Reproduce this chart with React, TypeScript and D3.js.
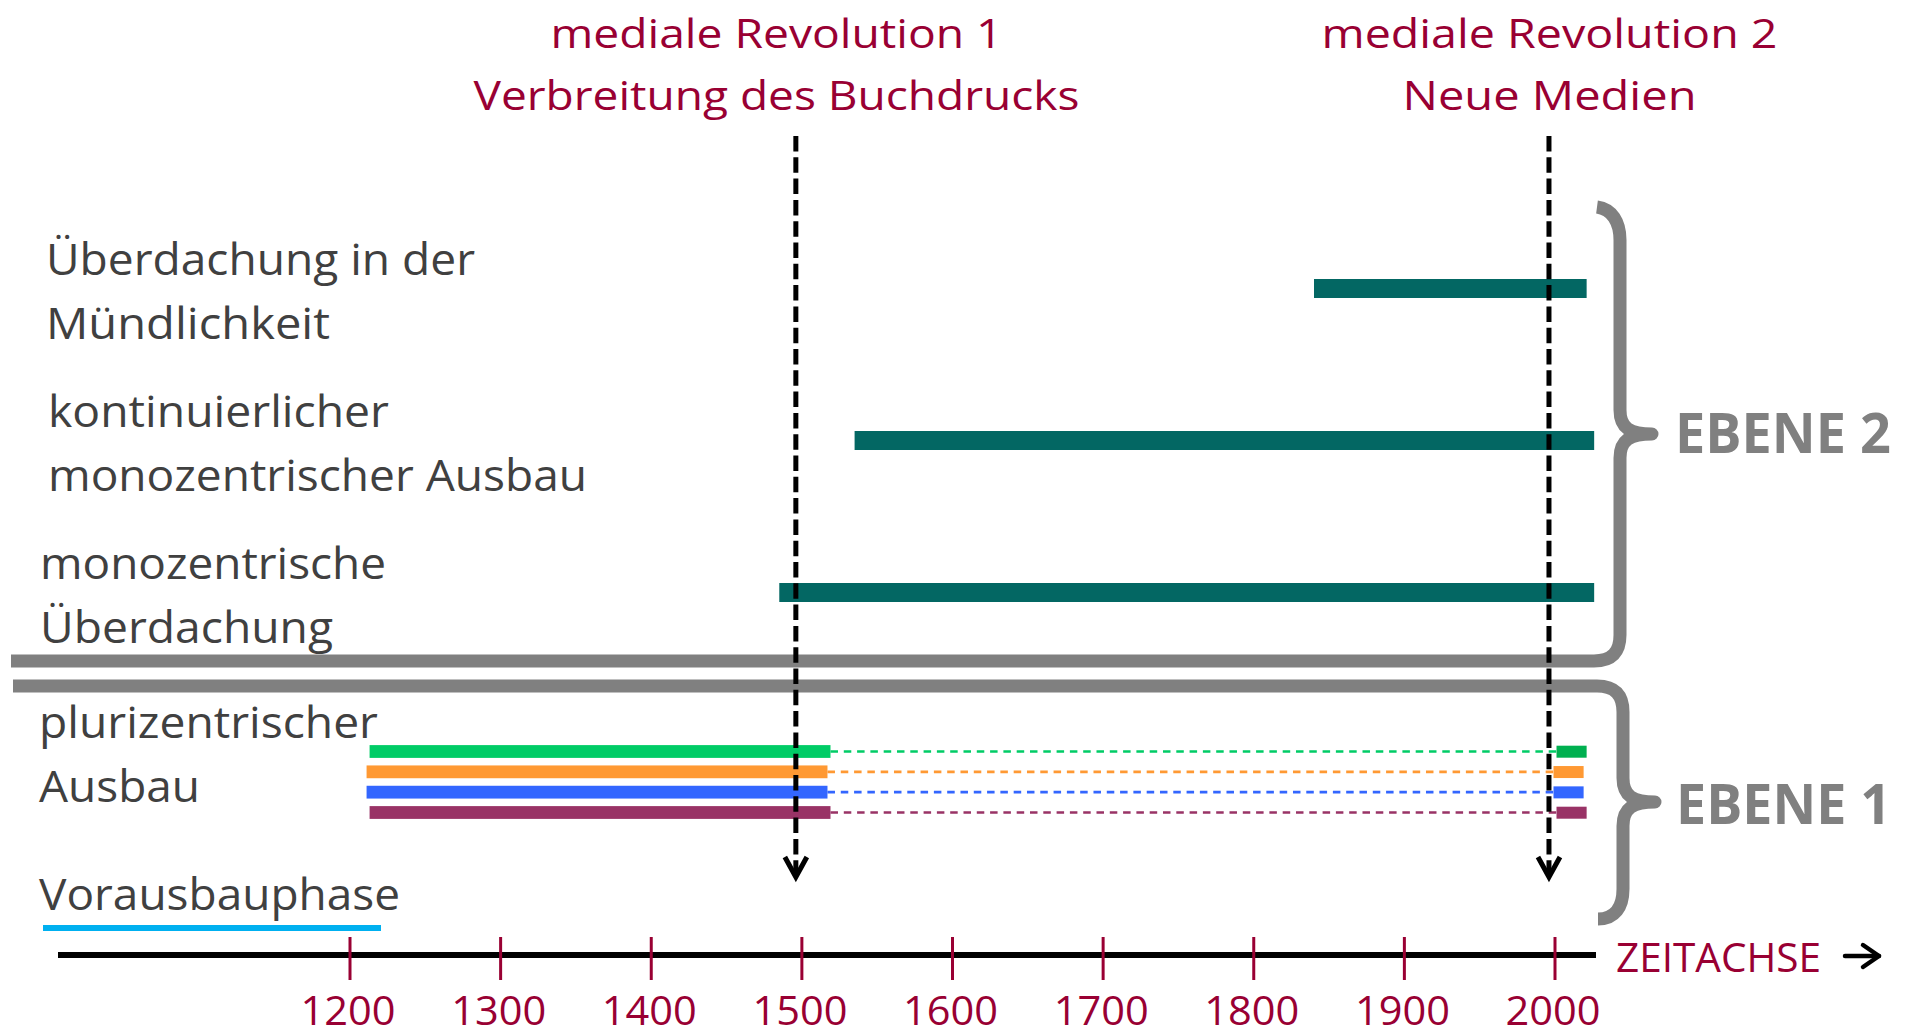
import React from 'react';
import * as d3 from 'd3';

// --- data ---
const tickYears = [1200, 1300, 1400, 1500, 1600, 1700, 1800, 1900, 2000];

const revolutionYears = [1496, 1996];
const revolutionTitles = [
  ['mediale Revolution 1', 'Verbreitung des Buchdrucks'],
  ['mediale Revolution 2', 'Neue Medien'],
];

const ebene2Phases = [
  'Überdachung in der Mündlichkeit',
  'kontinuierlicher monozentrischer Ausbau',
  'monozentrische Überdachung',
];
const ebene2LabelLines = [
  ['Überdachung in der', 'Mündlichkeit'],
  ['kontinuierlicher', 'monozentrischer Ausbau'],
  ['monozentrische', 'Überdachung'],
];
const ebene2Start = [1840, 1535, 1485];
const ebene2End = [2021, 2026, 2026];

const pluriLabelLines = ['plurizentrischer', 'Ausbau'];
const pluriVarieties = ['v1', 'v2', 'v3', 'v4'];
const pluriStart = [1213, 1211, 1211, 1213];
const pluriEnd = [1519, 1517, 1517, 1519];
const pluriRecentStart = [2001, 1999, 1999, 2001];
const pluriRecentEnd = [2021, 2019, 2019, 2021];

const preLabel = 'Vorausbauphase';
const levelNames = ['EBENE 2', 'EBENE 1'];
const axisName = 'ZEITACHSE';

// --- layout / styles ---
const W = 1910;
const H = 1031;
const RED = '#990033';
const GREY_TXT = '#404040';
const GREY = '#808080';
const TEAL = '#036763';
const FONT = "'Open Sans', sans-serif";
const pluriColors = ['#00CC66', '#FF9933', '#3366FF', '#993366'];
const pluriRecentColors = ['#00B050', '#FF9933', '#3366FF', '#993366'];

const titleWidths = [[452, 606], [456, 294]];
const titleBaselines = [48, 110];
const titleCenters = [776.5, 1549.5];
const ebene2LabelX = [46, 48, 40];
const ebene2LabelW = [[429, 284], [341, 539], [346, 293]];
const pluriLabelW = [339, 161];
const tickLabelW = 95;

const x = d3.scaleLinear().domain([1200, 2000]).range([350, 1555]);
const y2 = d3.scalePoint<string>().domain(ebene2Phases).range([288.5, 592.5]);
const y1 = d3.scalePoint<string>().domain(pluriVarieties).range([751.5, 812.5]);

const axisY = 955;

const Txt = ({ x, y, w, size, fill, weight, children }: any) => (
  <text
    x={x}
    y={y}
    fontSize={size}
    fill={fill}
    fontWeight={weight || 400}
    textLength={w}
    lengthAdjust="spacingAndGlyphs"
  >
    {children}
  </text>
);

function bracePath(xv: number, top: number, tip: number, bottom: number, tipX: number, lineTop: boolean, lineX: number) {
  const p = d3.path();
  const r = 26;
  if (lineTop) {
    p.moveTo(lineX, top);
    p.lineTo(xv - r, top);
    p.bezierCurveTo(xv - 8, top, xv, top + 9, xv, top + r);
  } else {
    p.moveTo(xv - 23, top);
    p.bezierCurveTo(xv - 8, top + 2, xv, top + 15, xv, top + 33);
  }
  p.lineTo(xv, tip - 24);
  p.bezierCurveTo(xv, tip - 6, xv + 10, tip, tipX, tip);
  p.bezierCurveTo(xv + 10, tip, xv, tip + 6, xv, tip + 24);
  if (lineTop) {
    p.lineTo(xv, bottom - 30);
    p.bezierCurveTo(xv, bottom - 12, xv - 8, bottom, xv - 25, bottom);
  } else {
    p.lineTo(xv, bottom - r);
    p.bezierCurveTo(xv, bottom - 9, xv - 8, bottom, xv - r, bottom);
    p.lineTo(lineX, bottom);
  }
  return p.toString();
}

export default function App() {
  return (
    <svg
      width={W}
      height={H}
      style={{ position: 'absolute', left: 0, top: 0, background: '#fff' }}
      fontFamily={FONT}
    >
      {/* titles of the two media revolutions */}
      {revolutionTitles.map((lines, i) =>
        lines.map((t, j) => (
          <Txt
            key={t}
            x={titleCenters[i] - titleWidths[i][j] / 2}
            y={titleBaselines[j]}
            w={titleWidths[i][j]}
            size={40}
            fill={RED}
          >
            {t}
          </Txt>
        ))
      )}

      {/* left labels level 2 */}
      {ebene2LabelLines.map((lines, i) =>
        lines.map((t, j) => (
          <Txt
            key={t + i}
            x={ebene2LabelX[i]}
            y={(y2(ebene2Phases[i]) as number) - 14 + j * 64}
            w={ebene2LabelW[i][j]}
            size={43}
            fill={GREY_TXT}
          >
            {t}
          </Txt>
        ))
      )}

      {/* level 2 bars */}
      {ebene2Phases.map((p, i) => (
        <rect
          key={p}
          x={x(ebene2Start[i])}
          y={(y2(p) as number) - 9.5}
          width={x(ebene2End[i]) - x(ebene2Start[i])}
          height={19}
          fill={TEAL}
        />
      ))}

      {/* level 1 label */}
      {pluriLabelLines.map((t, j) => (
        <Txt key={t} x={39} y={737.5 + j * 64.5} w={pluriLabelW[j]} size={43} fill={GREY_TXT}>
          {t}
        </Txt>
      ))}

      {/* pluricentric bars, dashed continuation, recent bars */}
      {pluriVarieties.map((v, i) => {
        const yc = y1(v) as number;
        return (
          <g key={v}>
            <line
              x1={x(pluriEnd[i])}
              x2={x(pluriRecentStart[i])}
              y1={yc}
              y2={yc}
              stroke={pluriColors[i]}
              strokeWidth={2.6}
              strokeDasharray="7.5,5.8"
            />
            <rect
              x={x(pluriStart[i])}
              y={yc - 6.4}
              width={x(pluriEnd[i]) - x(pluriStart[i])}
              height={12.8}
              fill={pluriColors[i]}
            />
            <rect
              x={x(pluriRecentStart[i])}
              y={yc - 5.8}
              width={x(pluriRecentEnd[i]) - x(pluriRecentStart[i])}
              height={12}
              fill={pluriRecentColors[i]}
            />
          </g>
        );
      })}

      {/* pre-phase */}
      <Txt x={39} y={910} w={361} size={43} fill={GREY_TXT}>
        {preLabel}
      </Txt>
      <rect x={43} y={925} width={338} height={6} fill="#00B0F0" />

      {/* braces with level separators */}
      <path
        d={bracePath(1620, 207, 434, 661, 1652, false, 11)}
        fill="none"
        stroke={GREY}
        strokeWidth={13}
        strokeLinejoin="round"
      />
      <path
        d={bracePath(1623, 686, 802, 919, 1655, true, 13)}
        fill="none"
        stroke={GREY}
        strokeWidth={13}
        strokeLinejoin="round"
      />
      <Txt x={1675} y={453} w={216} size={55} fill={GREY} weight={700}>
        {levelNames[0]}
      </Txt>
      <Txt x={1676} y={824} w={215} size={55} fill={GREY} weight={700}>
        {levelNames[1]}
      </Txt>

      {/* time axis */}
      <line x1={58} x2={1596} y1={axisY} y2={axisY} stroke="#000" strokeWidth={6} />
      {tickYears.map((t) => (
        <g key={t}>
          <line x1={x(t)} x2={x(t)} y1={937} y2={980} stroke={RED} strokeWidth={3} />
          <Txt x={x(t) - tickLabelW / 2 - 2} y={1025} w={tickLabelW} size={40} fill={RED}>
            {String(t)}
          </Txt>
        </g>
      ))}
      <Txt x={1616} y={972} w={205} size={40} fill={RED}>
        {axisName}
      </Txt>
      <g stroke="#000" strokeWidth={4.5} fill="none" strokeLinecap="round" strokeLinejoin="round">
        <line x1={1845} x2={1879} y1={956} y2={956} />
        <polyline points="1863,945 1879,956 1863,967" />
      </g>

      {/* revolution arrows */}
      {revolutionYears.map((r) => (
        <g key={r}>
          <line
            x1={x(r)}
            x2={x(r)}
            y1={136}
            y2={874}
            stroke="#000"
            strokeWidth={5}
            strokeDasharray="15.5,5.8"
          />
          <polyline
            points={`${x(r) - 11},${857} ${x(r)},${877} ${x(r) + 11},${857}`}
            fill="none"
            stroke="#000"
            strokeWidth={5}
            strokeLinejoin="miter"
          />
        </g>
      ))}
    </svg>
  );
}
